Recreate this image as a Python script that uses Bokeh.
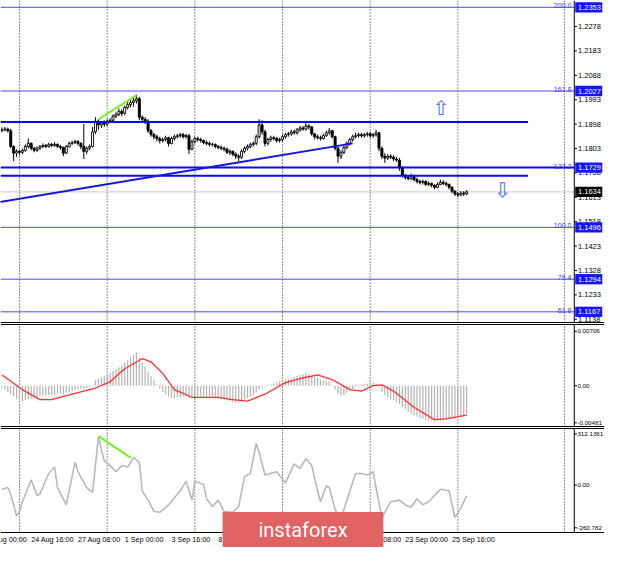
from bokeh.plotting import figure
from bokeh.layouts import column
from bokeh.models import Range1d, ColumnDataSource
from bokeh.embed import file_html
from bokeh.resources import INLINE
from bokeh.core.properties import value

# ---------------- data (EURUSD H4) ----------------
bar_open = [
    1.1872, 1.1876, 1.1879, 1.1872, 1.1811, 1.1785, 1.1792, 1.1788, 1.1796, 1.1811,
    1.1823, 1.1804, 1.1796, 1.1804, 1.1811, 1.1815, 1.1811, 1.1819, 1.1815, 1.1819,
    1.1811, 1.1807, 1.1785, 1.1811, 1.1823, 1.1826, 1.1830, 1.1823, 1.1811, 1.1792,
    1.1804, 1.1811, 1.1868, 1.1910, 1.1895, 1.1902, 1.1898, 1.1910, 1.1913, 1.1929,
    1.1936, 1.1948, 1.1940, 1.1963, 1.1974, 1.1982, 1.1989, 1.1997, 1.1925, 1.1917,
    1.1910, 1.1872, 1.1857, 1.1849, 1.1842, 1.1834, 1.1838, 1.1845, 1.1823, 1.1842,
    1.1849, 1.1853, 1.1857, 1.1849, 1.1853, 1.1800, 1.1830, 1.1842, 1.1838, 1.1834,
    1.1826, 1.1823, 1.1819, 1.1819, 1.1811, 1.1807, 1.1804, 1.1800, 1.1788, 1.1792,
    1.1781, 1.1773, 1.1769, 1.1792, 1.1804, 1.1811, 1.1819, 1.1823, 1.1849, 1.1895,
    1.1868, 1.1823, 1.1838, 1.1845, 1.1842, 1.1834, 1.1838, 1.1849, 1.1857, 1.1860,
    1.1868, 1.1864, 1.1876, 1.1883, 1.1879, 1.1891, 1.1887, 1.1860, 1.1849, 1.1845,
    1.1842, 1.1853, 1.1864, 1.1872, 1.1849, 1.1804, 1.1773, 1.1788, 1.1807, 1.1823,
    1.1838, 1.1849, 1.1853, 1.1857, 1.1853, 1.1857, 1.1860, 1.1853, 1.1857, 1.1864,
    1.1804, 1.1773, 1.1766, 1.1773, 1.1769, 1.1762, 1.1758, 1.1728, 1.1697, 1.1690,
    1.1686, 1.1694, 1.1682, 1.1675, 1.1671, 1.1675, 1.1663, 1.1667, 1.1660, 1.1652,
    1.1663, 1.1671, 1.1667, 1.1663, 1.1652, 1.1637, 1.1626, 1.1622, 1.1629, 1.1626,
]
bar_high = [
    1.1885, 1.1887, 1.1885, 1.1880, 1.1815, 1.1800, 1.1798, 1.1802, 1.1819, 1.1842,
    1.1827, 1.1809, 1.1811, 1.1817, 1.1823, 1.1821, 1.1826, 1.1825, 1.1828, 1.1823,
    1.1817, 1.1811, 1.1817, 1.1830, 1.1834, 1.1838, 1.1836, 1.1828, 1.1898, 1.1811,
    1.1819, 1.1887, 1.1925, 1.1917, 1.1910, 1.1913, 1.1917, 1.1921, 1.1936, 1.1944,
    1.1959, 1.1955, 1.1970, 1.1985, 1.1993, 1.2001, 1.2012, 1.2004, 1.1932, 1.1925,
    1.1917, 1.1879, 1.1864, 1.1857, 1.1849, 1.1845, 1.1853, 1.1849, 1.1849, 1.1857,
    1.1860, 1.1864, 1.1864, 1.1860, 1.1860, 1.1838, 1.1849, 1.1849, 1.1845, 1.1838,
    1.1834, 1.1830, 1.1826, 1.1823, 1.1817, 1.1815, 1.1811, 1.1807, 1.1800, 1.1796,
    1.1788, 1.1781, 1.1800, 1.1811, 1.1819, 1.1826, 1.1830, 1.1857, 1.1917, 1.1913,
    1.1876, 1.1845, 1.1853, 1.1853, 1.1849, 1.1845, 1.1857, 1.1864, 1.1868, 1.1876,
    1.1876, 1.1883, 1.1891, 1.1891, 1.1902, 1.1898, 1.1891, 1.1864, 1.1857, 1.1853,
    1.1860, 1.1872, 1.1883, 1.1876, 1.1853, 1.1811, 1.1796, 1.1815, 1.1830, 1.1845,
    1.1857, 1.1864, 1.1864, 1.1864, 1.1864, 1.1868, 1.1868, 1.1864, 1.1876, 1.1868,
    1.1811, 1.1785, 1.1781, 1.1781, 1.1777, 1.1770, 1.1766, 1.1735, 1.1705, 1.1697,
    1.1705, 1.1701, 1.1690, 1.1682, 1.1682, 1.1679, 1.1675, 1.1671, 1.1663, 1.1671,
    1.1682, 1.1679, 1.1675, 1.1667, 1.1656, 1.1641, 1.1633, 1.1637, 1.1637, 1.1641,
]
bar_low = [
    1.1866, 1.1870, 1.1866, 1.1804, 1.1754, 1.1770, 1.1777, 1.1781, 1.1790, 1.1804,
    1.1796, 1.1788, 1.1790, 1.1798, 1.1805, 1.1804, 1.1806, 1.1808, 1.1810, 1.1804,
    1.1798, 1.1773, 1.1781, 1.1806, 1.1817, 1.1820, 1.1815, 1.1800, 1.1762, 1.1781,
    1.1796, 1.1807, 1.1860, 1.1876, 1.1883, 1.1887, 1.1891, 1.1902, 1.1906, 1.1921,
    1.1929, 1.1929, 1.1932, 1.1955, 1.1963, 1.1966, 1.1978, 1.1913, 1.1906, 1.1898,
    1.1864, 1.1849, 1.1838, 1.1830, 1.1823, 1.1826, 1.1830, 1.1811, 1.1819, 1.1834,
    1.1842, 1.1845, 1.1842, 1.1842, 1.1781, 1.1796, 1.1823, 1.1830, 1.1826, 1.1819,
    1.1815, 1.1811, 1.1811, 1.1804, 1.1800, 1.1796, 1.1792, 1.1781, 1.1777, 1.1773,
    1.1762, 1.1754, 1.1762, 1.1785, 1.1796, 1.1804, 1.1811, 1.1815, 1.1842, 1.1857,
    1.1811, 1.1815, 1.1830, 1.1834, 1.1826, 1.1826, 1.1830, 1.1842, 1.1849, 1.1853,
    1.1857, 1.1857, 1.1868, 1.1872, 1.1872, 1.1876, 1.1853, 1.1838, 1.1838, 1.1834,
    1.1838, 1.1849, 1.1857, 1.1842, 1.1796, 1.1747, 1.1762, 1.1781, 1.1800, 1.1815,
    1.1830, 1.1842, 1.1845, 1.1845, 1.1845, 1.1849, 1.1845, 1.1845, 1.1849, 1.1792,
    1.1762, 1.1747, 1.1758, 1.1762, 1.1754, 1.1751, 1.1716, 1.1690, 1.1682, 1.1679,
    1.1679, 1.1675, 1.1667, 1.1663, 1.1663, 1.1656, 1.1656, 1.1652, 1.1644, 1.1648,
    1.1660, 1.1660, 1.1656, 1.1644, 1.1629, 1.1618, 1.1614, 1.1618, 1.1618, 1.1622,
]
bar_close = [
    1.1876, 1.1879, 1.1872, 1.1811, 1.1785, 1.1792, 1.1788, 1.1796, 1.1811, 1.1823,
    1.1804, 1.1796, 1.1804, 1.1811, 1.1815, 1.1811, 1.1819, 1.1815, 1.1819, 1.1811,
    1.1807, 1.1785, 1.1811, 1.1823, 1.1826, 1.1830, 1.1823, 1.1811, 1.1792, 1.1804,
    1.1811, 1.1868, 1.1910, 1.1895, 1.1902, 1.1898, 1.1910, 1.1913, 1.1929, 1.1936,
    1.1948, 1.1940, 1.1963, 1.1974, 1.1982, 1.1989, 1.1997, 1.1925, 1.1917, 1.1910,
    1.1872, 1.1857, 1.1849, 1.1842, 1.1834, 1.1838, 1.1845, 1.1823, 1.1842, 1.1849,
    1.1853, 1.1857, 1.1849, 1.1853, 1.1800, 1.1830, 1.1842, 1.1838, 1.1834, 1.1826,
    1.1823, 1.1819, 1.1819, 1.1811, 1.1807, 1.1804, 1.1800, 1.1788, 1.1792, 1.1781,
    1.1773, 1.1769, 1.1792, 1.1804, 1.1811, 1.1819, 1.1823, 1.1849, 1.1895, 1.1868,
    1.1823, 1.1838, 1.1845, 1.1842, 1.1834, 1.1838, 1.1849, 1.1857, 1.1860, 1.1868,
    1.1864, 1.1876, 1.1883, 1.1879, 1.1891, 1.1887, 1.1860, 1.1849, 1.1845, 1.1842,
    1.1853, 1.1864, 1.1872, 1.1849, 1.1804, 1.1773, 1.1788, 1.1807, 1.1823, 1.1838,
    1.1849, 1.1853, 1.1857, 1.1853, 1.1857, 1.1860, 1.1853, 1.1857, 1.1864, 1.1804,
    1.1773, 1.1766, 1.1773, 1.1769, 1.1762, 1.1758, 1.1728, 1.1697, 1.1690, 1.1686,
    1.1694, 1.1682, 1.1675, 1.1671, 1.1675, 1.1663, 1.1667, 1.1660, 1.1652, 1.1663,
    1.1671, 1.1667, 1.1663, 1.1652, 1.1637, 1.1626, 1.1622, 1.1629, 1.1626, 1.1634,
]

price_ticks = [1.1138, 1.1233, 1.1328, 1.1423, 1.1518, 1.1613, 1.1708,
               1.1803, 1.1898, 1.1993, 1.2088, 1.2183, 1.2278]
fib_levels = [1.2353, 1.2027, 1.1729, 1.1496, 1.1294, 1.1167]
fib_names = ["200.0", "161.8", "127.2", "100.0", "76.4", "61.8"]
fib_thick = [False, False, True, False, False, False]
last_price = 1.1634
channel_levels = [1.1906, 1.1697]
channel_end_bar = 180
trend_bars = [-1, 120]
trend_prices = [1.1594, 1.1823]
div_bars = [33, 46]
div_prices = [1.1917, 1.2010]

macd_hist = [
    -0.0002, -0.0005, -0.0008, -0.0011, -0.0014, -0.0017,
    -0.0019, -0.0020,
    -0.0019, -0.0018, -0.0017, -0.0016, -0.0015, -0.0014,
    -0.0013, -0.0013, -0.0012, -0.0012, -0.0011, -0.0010, -0.0010, -0.0011, -0.0009, -0.0008,
    -0.0007, -0.0006, -0.0005, -0.0004, -0.0004, -0.0003, -0.0002, -0.0001,
    0.0007,
    0.0009, 0.0011, 0.0013, 0.0015, 0.0017, 0.0019, 0.0021, 0.0024, 0.0026, 0.0030, 0.0033, 0.0037, 0.0040,
    0.0043,
    0.0036, 0.0030, 0.0025, 0.0018, 0.0012, 0.0007, 0.0002,
    -0.0004, -0.0008, -0.0011, -0.0014, -0.0016, -0.0016, -0.0015,
    -0.0015, -0.0014, -0.0014, -0.0016, -0.0015, -0.0014, -0.0014, -0.0014, -0.0015,
    -0.0015, -0.0015, -0.0015, -0.0016, -0.0016, -0.0017, -0.0018, -0.0019, -0.0020,
    -0.0021, -0.0022, -0.0022,
    -0.0020, -0.0018, -0.0016, -0.0014, -0.0012, -0.0009, -0.0005, -0.0002,
    -0.0001,
    0.0001, 0.0002, 0.0003, 0.0004, 0.0005, 0.0006, 0.0008,
    0.0009, 0.0010, 0.0011, 0.0013, 0.0014, 0.0015, 0.0016,
    0.0015, 0.0013, 0.0011, 0.0010, 0.0008, 0.0007, 0.0006, 0.0005,
    0.0001, -0.0005, -0.0011, -0.0013, -0.0012,
    -0.0009, -0.0006, -0.0004, -0.0002, -0.0001, 0.0001, 0.0002, 0.0003, 0.0004,
    0.0004, 0.0003,
    -0.0002, -0.0008, -0.0012, -0.0015, -0.0017, -0.0019, -0.0021, -0.0024, -0.0028,
    -0.0031, -0.0034, -0.0036, -0.0038, -0.0040, -0.0042, -0.0043, -0.0044,
    -0.0045, -0.0045, -0.0046, -0.0045, -0.0045,
    -0.0044, -0.0043, -0.0043, -0.0042, -0.0041, -0.0041, -0.0040, -0.0039, -0.0037,
]
signal_bars = [0, 7, 13, 17, 24, 32, 37, 42, 48, 51, 55, 59, 65, 74, 79, 84, 90,
               97, 103, 108, 113, 119, 123, 127, 130, 134, 141, 148, 152, 159]
signal_vals = [0.0014, -0.0005, -0.0018, -0.0018, -0.0011, -0.0003, 0.0005, 0.0022,
               0.0035, 0.0031, 0.0016, -0.0005, -0.0015, -0.0015, -0.0018, -0.0020,
               -0.0011, 0.0004, 0.0010, 0.0014, 0.0008, -0.0005, -0.0007, 0.0000,
               0.0001, -0.0007, -0.0028, -0.0044, -0.0043, -0.0038]
macd_ticks = [0.00706, 0.0, -0.00481]
macd_tick_labels = ["0.00706", "0.00", "-0.00481"]

cci_bars = [0, 2, 3, 5, 6, 7, 10, 12, 13, 16, 18, 19, 22, 25, 26, 29, 31, 33, 35, 37,
            39, 41, 43, 45, 47, 48, 50, 52, 54, 57, 61, 63, 65, 66, 69, 70, 72, 74, 76,
            79, 81, 83, 85, 87, 88, 90, 94, 97, 100, 102, 104, 106, 108, 109, 111, 112,
            114, 116, 118, 121, 123, 125, 127, 128, 130, 133, 136, 138, 140, 142, 144,
            146, 150, 153, 155, 157, 159]
cci_vals = [-25, -15, -54, -189, -160, -102, 33, -64, -54, 71, 110, -15, -121, 139, 81,
            -15, -44, 293, 148, 119, 81, 119, 110, 168, 139, -35, -92, -160, -166, -121,
            -35, 23, -92, 23, 4, -83, -131, -92, -160, -166, -131, 52, 71, 254, 197, 62,
            81, 13, 129, 100, 162, 119, -35, -102, -6, -15, -150, -208, -92, 71, 71, 62,
            81, -15, -198, -102, -92, -121, -135, -83, -121, -102, -25, -35, -198, -141,
            -64]
cci_div_bars = [33, 44]
cci_div_vals = [299, 168]
cci_ticks = [312.1361, 0.0, -260.782]
cci_tick_labels = ["312.1361", "0.00", "-260.782"]

time_bars = [-6, 10, 26, 42, 58, 74, 90, 106, 122, 138, 154]
time_labels = ["20 Aug 00:00", "24 Aug 16:00", "27 Aug 08:00", "1 Sep 00:00",
               "3 Sep 16:00", "8 Sep 08:00", "11 Sep 00:00", "15 Sep 16:00",
               "18 Sep 08:00", "23 Sep 00:00", "25 Sep 16:00"]
week_bars = [6, 36, 66, 96, 126, 156, 192.5]

# ---------------- layout constants ----------------
FONT = value("Liberation Sans")
W = 604
X0, X1 = -0.5, 206.17
AXIS_X = 195.83
LBL_X = 197.1
BOX_L, BOX_R = 196.15, 205.4
xr = Range1d(X0, X1)


def panel(h, y0, y1):
    p = figure(width=W, height=h, x_range=xr, y_range=Range1d(y0, y1),
               x_axis_location=None, y_axis_location=None,
               toolbar_location=None, output_backend="svg",
               min_border=0, outline_line_color=None,
               background_fill_color="white", border_fill_color="white")
    p.grid.visible = False
    return p


def right_scale(p, ticks, labels, ybot, ytop, size="7.5px", lx=LBL_X):
    p.segment(x0=AXIS_X, y0=ybot, x1=AXIS_X, y1=ytop, line_color="black", line_width=1)
    p.segment(x0=AXIS_X, y0=ticks, x1=AXIS_X + 0.9, y1=ticks, line_color="black", line_width=1)
    p.text(x=lx, y=ticks, text=labels, text_font=FONT, text_font_size=size,
           text_align="left", text_baseline="middle", text_color="black")


def week_grid(p, ybot, ytop):
    n = len(week_bars)
    p.segment(x0=week_bars, y0=[ybot] * n, x1=week_bars, y1=[ytop] * n,
              line_color="#202020", line_dash="1 2", line_width=1)


# ---------------- main price panel ----------------
MY0, MY1 = 1.11215, 1.23795
MBOT = 1.11253
pm = panel(323, MY0, MY1)
week_grid(pm, MBOT, MY1)

thin_levels = [l for l, t in zip(fib_levels, fib_thick) if not t]
thick_levels = [l for l, t in zip(fib_levels, fib_thick) if t]
pm.segment(x0=X0, y0=[last_price], x1=AXIS_X, y1=[last_price], line_color="#c8c8c8", line_width=1)
pm.segment(x0=X0, y0=thin_levels, x1=AXIS_X, y1=thin_levels, line_color="#4a4aff", line_width=1)

idx = list(range(len(bar_close)))
src = ColumnDataSource(dict(
    x=idx, o=bar_open, h=bar_high, l=bar_low, c=bar_close,
    top=[max(o, c) for o, c in zip(bar_open, bar_close)],
    bot=[min(o, c) for o, c in zip(bar_open, bar_close)],
    fill=["white" if c >= o else "black" for o, c in zip(bar_open, bar_close)],
))
pm.segment(x0="x", y0="h", x1="x", y1="l", source=src, line_color="black", line_width=1)
pm.vbar(x="x", width=0.7, top="top", bottom="bot", source=src,
        fill_color="fill", line_color="black", line_width=0.9)

pm.segment(x0=X0, y0=thick_levels, x1=AXIS_X, y1=thick_levels, line_color="#0a0af0", line_width=2)
pm.segment(x0=X0, y0=channel_levels, x1=channel_end_bar, y1=channel_levels,
           line_color="#0a0af0", line_width=2)
pm.line(trend_bars, trend_prices, line_color="#1414e6", line_width=2)
pm.line(div_bars, div_prices, line_color="#77ee22", line_width=2)

# arrows
pm.text(x=[150.2], y=[1.1959], text=["\u21e7"], text_font=value("DejaVu Sans"),
        text_font_size="20px", text_align="center", text_baseline="middle", text_color="#4a6cff")
pm.text(x=[171.2], y=[1.1641], text=["\u21e9"], text_font=value("DejaVu Sans"),
        text_font_size="20px", text_align="center", text_baseline="middle", text_color="#4a6cff")

right_scale(pm, price_ticks, [f"{t:.4f}" for t in price_ticks], MBOT, MY1)
pm.text(x=AXIS_X - 1.0, y=fib_levels, text=fib_names, text_font=FONT, text_font_size="7px",
        text_align="right", text_baseline="bottom", y_offset=1, text_color="#3a3aff")
pm.quad(left=BOX_L, right=BOX_R, bottom=[l - 0.0020 for l in fib_levels],
        top=[l + 0.0020 for l in fib_levels], fill_color="#1414ff", line_color=None)
pm.text(x=LBL_X, y=fib_levels, text=[f"{l:.4f}" for l in fib_levels], text_font=FONT,
        text_font_size="7.5px", text_align="left", text_baseline="middle", text_color="white")
pm.quad(left=BOX_L, right=BOX_R, bottom=[last_price - 0.0020], top=[last_price + 0.0020],
        fill_color="black", line_color=None)
pm.text(x=LBL_X, y=[last_price], text=[f"{last_price:.4f}"], text_font=FONT,
        text_font_size="7.5px", text_align="left", text_baseline="middle", text_color="white")
pm.segment(x0=X0, y0=MBOT, x1=X1, y1=MBOT, line_color="black", line_width=1)

# ---------------- MACD panel ----------------
DY0, DY1 = -0.005418, 0.008064
DTOP, DBOT = 0.00794, -0.00529
pd_ = panel(104, DY0, DY1)
week_grid(pd_, DBOT, DTOP)
pd_.vbar(x=list(range(len(macd_hist))), top=macd_hist, bottom=0, width=0.42,
         fill_color="#b4b4b4", line_color=None)
pd_.line(signal_bars, signal_vals, line_color="#ff3030", line_width=1.3)
right_scale(pd_, macd_ticks, macd_tick_labels, DBOT, DTOP, size="6.2px", lx=196.9)
pd_.segment(x0=X0, y0=[DTOP, DBOT], x1=X1, y1=[DTOP, DBOT], line_color="black", line_width=1)

# ---------------- CCI panel ----------------
CY0, CY1 = -380.9, 351.4
CTOP, CBOT = 345.5, -289.4
pc = panel(120, CY0, CY1)
week_grid(pc, CBOT, CTOP)
pc.line(cci_bars, cci_vals, line_color="#b8b8b8", line_width=1.6)
pc.line(cci_div_bars, cci_div_vals, line_color="#77ee22", line_width=2)
right_scale(pc, cci_ticks, cci_tick_labels, CBOT, CTOP, size="6.2px", lx=196.9)
pc.segment(x0=X0, y0=[CTOP, CBOT], x1=X1, y1=[CTOP, CBOT], line_color="black", line_width=1)
pc.text(x=time_bars, y=-331.0, text=time_labels, text_font=FONT, text_font_size="7.2px",
        text_align="left", text_baseline="middle", text_color="black")

# watermark
pc.quad(left=[75.5], right=[130.5], bottom=[CY0], top=[-165.0], fill_color="#e06262", line_color=None)
pc.text(x=[103.0], y=[-277.0], text=["instaforex"], text_font=value("Roboto"),
        text_font_size="20px", text_align="center", text_baseline="middle", text_color="white")

layout = column(pm, pd_, pc, spacing=0)
with open("out.html", "w") as f:
    f.write(file_html(layout, INLINE, title="EURUSD H4"))
